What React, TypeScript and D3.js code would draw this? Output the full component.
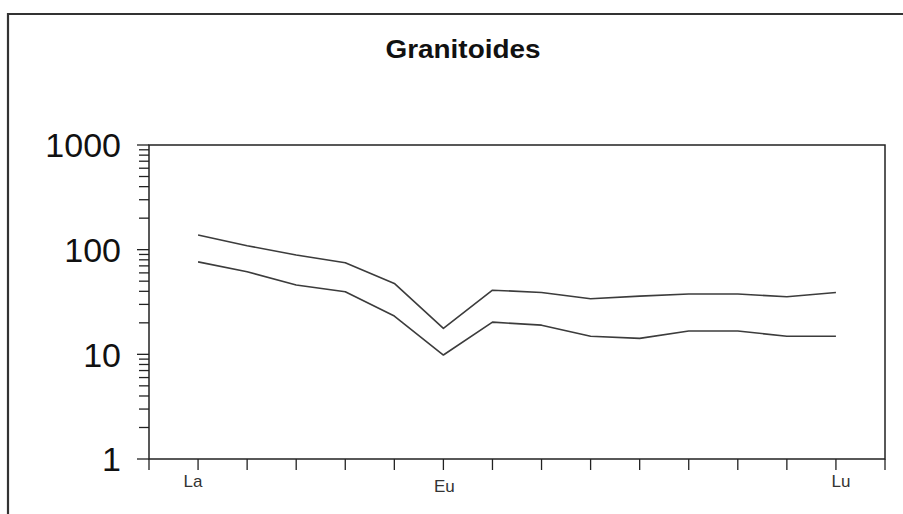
import React from "react";
import * as d3 from "d3";

const title = "Granitoides";
const elements = ["La", "Ce", "Pr", "Nd", "Sm", "Eu", "Gd", "Tb", "Dy", "Ho", "Er", "Tm", "Yb", "Lu"];
const labeledElements = ["La", "Eu", "Lu"];
const upperSeries = [138, 109, 89, 75, 47.6, 17.7, 41, 39, 34, 36, 37.7, 37.7, 35.5, 39];
const lowerSeries = [76.5, 61.5, 46, 39.6, 23.2, 9.85, 20.3, 19, 14.9, 14.2, 16.7, 16.7, 14.9, 14.9];
const yMajorTicks = [1, 10, 100, 1000];

const W = 903;
const H = 514;
const left = 149;
const right = 885;
const top = 145;
const bottom = 459;
const lineColor = "#3c3c3c";
const axisColor = "#222";

export default function App() {
  const x = d3.scaleLinear().domain([0, elements.length + 1]).range([left, right]);
  const y = d3.scaleLog().domain([1, 1000]).range([bottom, top]);
  const xTicks = d3.range(0, elements.length + 2);
  const yTicks = y.ticks();
  const line = d3
    .line<number>()
    .x((_, i) => x(i + 1))
    .y((d) => y(d));

  const labelOffset: Record<string, [number, number]> = {
    La: [-5, 28],
    Eu: [1, 33],
    Lu: [5, 28],
  };

  return (
    <svg
      width={W}
      height={H}
      style={{ position: "absolute", left: 0, top: 0, background: "#fff" }}
      fontFamily="'Liberation Sans', Arial, sans-serif"
    >
      <rect x={0} y={0} width={W} height={H} fill="#fff" />
      {/* outer frame */}
      <path d={`M8,${H + 10} L8,14 L${W + 10},14`} fill="none" stroke="#333" strokeWidth={2.2} />

      <text
        x={463}
        y={58}
        textAnchor="middle"
        fontSize={25}
        fontWeight="bold"
        fill="#111"
        textLength={155}
        lengthAdjust="spacingAndGlyphs"
      >
        {title}
      </text>

      {/* plot frame */}
      <rect x={left} y={top} width={right - left} height={bottom - top} fill="none" stroke={axisColor} strokeWidth={1.5} />

      {/* y ticks */}
      {yTicks.map((t, i) => {
        const major = yMajorTicks.includes(t);
        return (
          <line
            key={"yt" + i}
            x1={left - (major ? 12 : 10)}
            x2={left}
            y1={y(t)}
            y2={y(t)}
            stroke={axisColor}
            strokeWidth={1.3}
          />
        );
      })}
      {yMajorTicks.map((t) => (
        <text key={"yl" + t} x={121} y={y(t)} dy="0.36em" textAnchor="end" fontSize={34} fill="#111">
          {t}
        </text>
      ))}

      {/* x ticks */}
      {xTicks.map((t) => (
        <line key={"xt" + t} x1={x(t)} x2={x(t)} y1={bottom} y2={bottom + 11} stroke={axisColor} strokeWidth={1.3} />
      ))}
      {labeledElements.map((el) => {
        const i = elements.indexOf(el) + 1;
        const [dx, dy] = labelOffset[el];
        return (
          <text key={el} x={x(i) + dx} y={bottom + dy} textAnchor="middle" fontSize={17} fill="#333">
            {el}
          </text>
        );
      })}

      {/* series */}
      <path d={line(upperSeries) || ""} fill="none" stroke={lineColor} strokeWidth={1.6} strokeLinejoin="round" />
      <path d={line(lowerSeries) || ""} fill="none" stroke={lineColor} strokeWidth={1.6} strokeLinejoin="round" />
    </svg>
  );
}
